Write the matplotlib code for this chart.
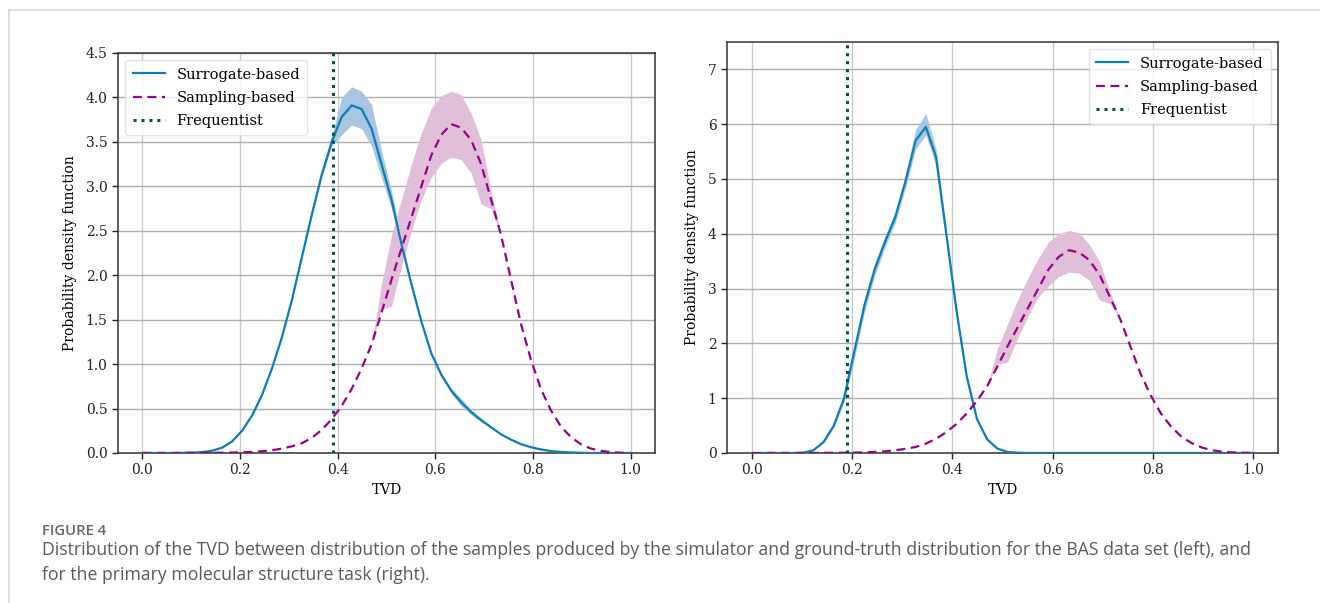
import numpy as np
import matplotlib
matplotlib.use("Agg")
import matplotlib.pyplot as plt
from matplotlib.lines import Line2D

# TVD grid (50 evaluation points between 0 and 1)
tvd = np.linspace(0.0, 1.0, 50)

# ---- Left panel (BAS data set) ----
left_surr = [0, 0, 0, 0, 0.002, 0.005, 0.01, 0.025, 0.06, 0.13,
             0.25, 0.42, 0.65, 0.95, 1.3, 1.72, 2.2, 2.68, 3.13, 3.5,
             3.78, 3.91, 3.87, 3.65, 3.25, 2.85, 2.35, 1.9, 1.48, 1.12,
             0.88, 0.7, 0.57, 0.46, 0.37, 0.29, 0.21, 0.15, 0.1, 0.065,
             0.04, 0.022, 0.012, 0.006, 0.003, 0, 0, 0, 0, 0]
left_surr_lo = [0, 0, 0, 0, 0.002, 0.005, 0.01, 0.025, 0.06, 0.13,
                0.25, 0.42, 0.65, 0.95, 1.3, 1.71, 2.19, 2.66, 3.1, 3.45,
                3.58, 3.69, 3.65, 3.45, 3.1, 2.75, 2.3, 1.88, 1.47, 1.11,
                0.86, 0.67, 0.53, 0.43, 0.35, 0.28, 0.21, 0.15, 0.1, 0.065,
                0.04, 0.022, 0.012, 0.006, 0.003, 0, 0, 0, 0, 0]
left_surr_hi = [0, 0, 0, 0, 0.002, 0.005, 0.01, 0.025, 0.06, 0.13,
                0.25, 0.42, 0.65, 0.95, 1.3, 1.73, 2.21, 2.7, 3.16, 3.56,
                4.0, 4.12, 4.07, 3.92, 3.4, 2.95, 2.4, 1.92, 1.49, 1.13,
                0.9, 0.73, 0.61, 0.49, 0.39, 0.3, 0.21, 0.15, 0.1, 0.065,
                0.04, 0.022, 0.012, 0.006, 0.003, 0, 0, 0, 0, 0]

left_samp = [0, 0, 0, 0, 0, 0, 0.001, 0.002, 0.003, 0.005,
             0.008, 0.012, 0.02, 0.03, 0.05, 0.075, 0.11, 0.17, 0.26, 0.38,
             0.53, 0.72, 0.95, 1.22, 1.58, 1.95, 2.3, 2.65, 3.0, 3.35,
             3.58, 3.7, 3.66, 3.52, 3.25, 2.85, 2.45, 1.95, 1.45, 1.05,
             0.72, 0.48, 0.3, 0.18, 0.1, 0.05, 0.025, 0.01, 0.003, 0.0]
left_samp_lo = list(left_samp)
left_samp_hi = list(left_samp)
band_idx = [24, 25, 26, 27, 28, 29, 30, 31, 32, 33, 34, 35]
left_band_lo = [1.62, 1.65, 2.1, 2.5, 2.85, 3.1, 3.26, 3.33, 3.3, 3.15, 2.8, 2.75]
left_band_hi = [1.9, 2.45, 2.85, 3.25, 3.6, 3.88, 4.02, 4.07, 4.03, 3.82, 3.52, 2.95]
for k, i in enumerate(band_idx):
    left_samp_lo[i] = left_band_lo[k]
    left_samp_hi[i] = left_band_hi[k]
left_freq = 0.39

# ---- Right panel (molecular structure task) ----
right_surr = [0, 0, 0, 0, 0, 0.005, 0.05, 0.2, 0.5, 1.0,
              1.85, 2.7, 3.35, 3.85, 4.3, 4.95, 5.7, 5.95, 5.4, 4.0,
              2.6, 1.4, 0.62, 0.25, 0.08, 0.02, 0.005, 0, 0, 0,
              0, 0, 0, 0, 0, 0, 0, 0, 0, 0,
              0, 0, 0, 0, 0, 0, 0, 0, 0, 0]
right_surr_lo = [0, 0, 0, 0, 0, 0.005, 0.05, 0.19, 0.47, 0.93,
                 1.72, 2.58, 3.24, 3.75, 4.2, 4.83, 5.55, 5.8, 5.25, 3.9,
                 2.55, 1.38, 0.61, 0.25, 0.08, 0.02, 0.005, 0, 0, 0,
                 0, 0, 0, 0, 0, 0, 0, 0, 0, 0,
                 0, 0, 0, 0, 0, 0, 0, 0, 0, 0]
right_surr_hi = [0, 0, 0, 0, 0, 0.005, 0.05, 0.21, 0.53, 1.07,
                 1.98, 2.82, 3.46, 3.95, 4.4, 5.07, 5.9, 6.2, 5.55, 4.1,
                 2.65, 1.42, 0.63, 0.25, 0.08, 0.02, 0.005, 0, 0, 0,
                 0, 0, 0, 0, 0, 0, 0, 0, 0, 0,
                 0, 0, 0, 0, 0, 0, 0, 0, 0, 0]

right_samp = [0, 0, 0, 0, 0, 0, 0.001, 0.002, 0.003, 0.005,
              0.008, 0.012, 0.02, 0.03, 0.05, 0.075, 0.11, 0.17, 0.26, 0.38,
              0.53, 0.72, 0.95, 1.22, 1.58, 1.95, 2.3, 2.65, 3.0, 3.35,
              3.58, 3.7, 3.66, 3.52, 3.25, 2.85, 2.45, 1.95, 1.45, 1.05,
              0.72, 0.48, 0.3, 0.18, 0.1, 0.05, 0.025, 0.01, 0.003, 0.0]
right_samp_lo = list(right_samp)
right_samp_hi = list(right_samp)
right_band_lo = [1.62, 1.66, 2.1, 2.5, 2.85, 3.05, 3.22, 3.3, 3.28, 3.15, 2.79, 2.73]
right_band_hi = [1.9, 2.36, 2.8, 3.2, 3.55, 3.85, 4.0, 4.06, 4.02, 3.8, 3.49, 2.95]
for k, i in enumerate(band_idx):
    right_samp_lo[i] = right_band_lo[k]
    right_samp_hi[i] = right_band_hi[k]
right_freq = 0.19

labels = ["Surrogate-based", "Sampling-based", "Frequentist"]
left_yticks = [0.0, 0.5, 1.0, 1.5, 2.0, 2.5, 3.0, 3.5, 4.0, 4.5]
right_yticks = [0, 1, 2, 3, 4, 5, 6, 7]
xticks = [0.0, 0.2, 0.4, 0.6, 0.8, 1.0]

caption_title = "FIGURE 4"
caption_lines = [
    "Distribution of the TVD between distribution of the samples produced by the simulator and ground-truth distribution for the BAS data set (left), and",
    "for the primary molecular structure task (right).",
]

BLUE = "#0a7fb7"
BLUE_BAND = "#a8c5e1"
PURPLE = "#990088"
PURPLE_BAND = "#e1bfdb"
FREQ = "#00504f"

plt.rcParams["font.family"] = ["DejaVu Serif"]
fig = plt.figure(figsize=(13.2, 6.03), dpi=100)
fig.patch.set_facecolor("white")

# decorative frame lines (top and left)
fig.add_artist(Line2D([9 / 1320, 1.0], [1 - 10 / 603, 1 - 10 / 603], color="#d8d8d8", lw=1.2,
                      transform=fig.transFigure))
fig.add_artist(Line2D([9 / 1320, 9 / 1320], [0.0, 1 - 10 / 603], color="#d8d8d8", lw=1.2,
                      transform=fig.transFigure))

ax1 = fig.add_axes([118 / 1320, 150 / 603, 537 / 1320, 400 / 603])
ax2 = fig.add_axes([727 / 1320, 150 / 603, 551 / 1320, 411 / 603])


def draw(ax, surr, slo, shi, samp, plo, phi, freq, ylim, yticks, yfmt, legloc):
    ax.set_axisbelow(True)
    ax.fill_between(tvd, slo, shi, color=BLUE_BAND, lw=0, zorder=2)
    ax.fill_between(tvd, plo, phi, color=PURPLE_BAND, lw=0, zorder=2)
    ax.plot(tvd, surr, color=BLUE, lw=1.6, label=labels[0], zorder=3)
    ax.plot(tvd, samp, color=PURPLE, lw=1.6, ls=(0, (4, 2.5)), label=labels[1], zorder=3)
    ax.axvline(freq, color=FREQ, lw=2.2, ls=(0, (1, 1.6)), label=labels[2], zorder=4)
    ax.set_xlim(-0.05, 1.05)
    ax.set_ylim(*ylim)
    ax.set_xticks(xticks)
    ax.set_xticklabels([f"{v:.1f}" for v in xticks])
    ax.set_yticks(yticks)
    ax.set_yticklabels([yfmt.format(v) for v in yticks])
    ax.xaxis.grid(True, color="#cccccc", lw=1.0)
    ax.yaxis.grid(True, color="#aeaeae", lw=1.0)
    ax.tick_params(labelsize=10, length=4, width=1, colors="#222222")
    for s in ax.spines.values():
        s.set_color("#333333")
        s.set_linewidth(1.1)
    ax.set_xlabel("TVD", fontsize=10, labelpad=4)
    ax.set_ylabel("Probability density function", fontsize=10, labelpad=6)
    leg = ax.legend(loc=legloc, fontsize=10.5, framealpha=0.8, edgecolor="#dddddd",
                    handlelength=2.2, borderpad=0.5, labelspacing=0.62)
    leg.get_frame().set_linewidth(1.0)


draw(ax1, left_surr, left_surr_lo, left_surr_hi, left_samp, left_samp_lo, left_samp_hi,
     left_freq, (0, 4.5), left_yticks, "{:.1f}", "upper left")
draw(ax2, right_surr, right_surr_lo, right_surr_hi, right_samp, right_samp_lo, right_samp_hi,
     right_freq, (0, 7.5), right_yticks, "{:d}", "upper right")

fig.text(42 / 1320, 1 - 531 / 603, caption_title, fontsize=10.7, color="#666666",
         family=["Open Sans", "DejaVu Sans"], fontweight="semibold", va="center", ha="left")
fig.text(42 / 1320, 1 - 550 / 603, caption_lines[0], fontsize=12.7, color="#5a5a5a",
         family=["Open Sans", "DejaVu Sans"], va="center", ha="left")
fig.text(42 / 1320, 1 - 575 / 603, caption_lines[1], fontsize=12.7, color="#5a5a5a",
         family=["Open Sans", "DejaVu Sans"], va="center", ha="left")

fig.savefig("out.png", dpi=100, facecolor="white")
